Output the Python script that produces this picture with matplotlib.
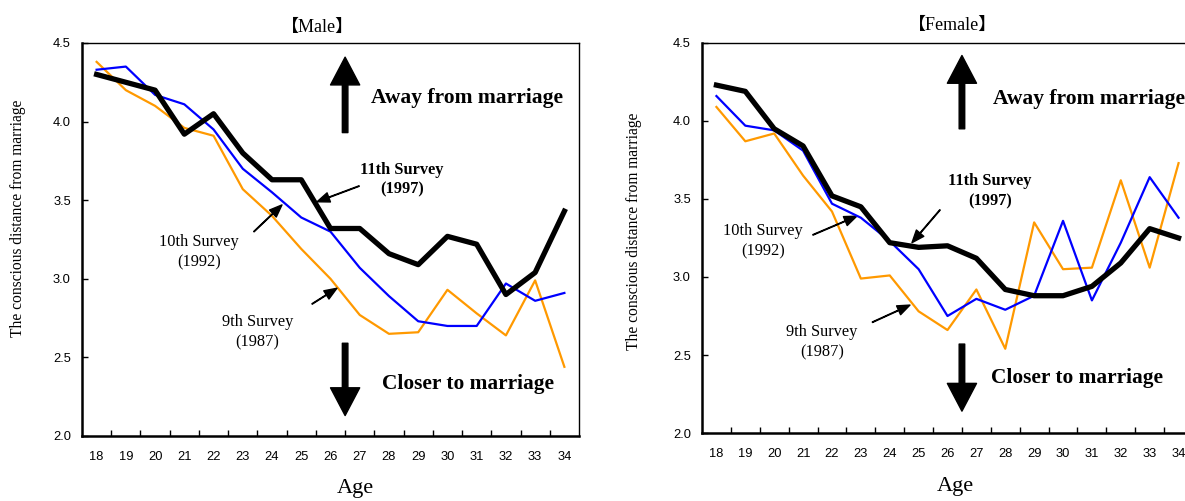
import matplotlib
matplotlib.use("Agg")
import matplotlib.pyplot as plt

ages = list(range(18, 35))
age_labels = [str(a) for a in ages]

# Male
male_11th_1997 = [4.30, 4.25, 4.20, 3.92, 4.05, 3.80, 3.63, 3.63, 3.32, 3.32, 3.16, 3.09, 3.27, 3.22, 2.90, 3.04, 3.43]
male_10th_1992 = [4.33, 4.35, 4.17, 4.11, 3.95, 3.70, 3.55, 3.39, 3.30, 3.07, 2.89, 2.73, 2.70, 2.70, 2.97, 2.86, 2.91]
male_9th_1987 = [4.38, 4.20, 4.10, 3.96, 3.91, 3.57, 3.40, 3.19, 3.00, 2.77, 2.65, 2.66, 2.93, 2.78, 2.64, 2.99, 2.44]

# Female
female_11th_1997 = [4.23, 4.19, 3.95, 3.84, 3.52, 3.45, 3.22, 3.19, 3.20, 3.12, 2.92, 2.88, 2.88, 2.94, 3.09, 3.31, 3.25]
female_10th_1992 = [4.16, 3.97, 3.94, 3.81, 3.47, 3.38, 3.23, 3.05, 2.75, 2.86, 2.79, 2.88, 3.36, 2.85, 3.22, 3.64, 3.38]
female_9th_1987 = [4.09, 3.87, 3.92, 3.65, 3.42, 2.99, 3.01, 2.78, 2.66, 2.92, 2.54, 3.35, 3.05, 3.06, 3.62, 3.06, 3.73]

serif = ["Liberation Serif", "DejaVu Serif"]
title_font = ["Liberation Serif", "Noto Sans CJK JP", "DejaVu Sans"]
sans = ["Liberation Sans", "DejaVu Sans"]

fig = plt.figure(figsize=(11.85, 5.01), dpi=100)
W, H = 1185, 501


def px_axes(left, top, right, bottom):
    return fig.add_axes([left / W, 1 - bottom / H, (right - left) / W, (bottom - top) / H])


ax_m = px_axes(82, 43, 579, 436)
ax_f = px_axes(702, 43, 1193, 433)


def setup(ax):
    ax.set_xlim(17.5, 34.5)
    ax.set_ylim(2.0, 4.5)
    ax.set_xticks(ages)
    ax.set_xticklabels(age_labels, fontsize=9.3, family=sans)
    ax.set_xticks([a + 0.5 for a in ages[:-1]], minor=True)
    ax.tick_params(axis="x", which="major", length=0, pad=11)
    ax.tick_params(axis="x", which="minor", direction="in", length=4, width=1)
    ax.set_yticks([2.0, 2.5, 3.0, 3.5, 4.0, 4.5])
    ax.set_yticklabels(["2.0", "2.5", "3.0", "3.5", "4.0", "4.5"], fontsize=9.3, family=sans)
    ax.tick_params(axis="y", direction="in", length=4, width=1, pad=8)
    for s in ax.spines.values():
        s.set_linewidth(1.0)
    ax.spines["left"].set_linewidth(1.8)
    ax.spines["bottom"].set_linewidth(1.8)


def big_arrow(ax, x, y0, y1):
    ax.annotate("", xy=(x, y1), xytext=(x, y0),
                arrowprops=dict(width=4.0, headwidth=21, headlength=20,
                                color="black", shrink=0))


def small_arrow(ax, tip, tail):
    ax.annotate("", xy=tip, xytext=tail,
                arrowprops=dict(width=0.4, headwidth=7, headlength=9,
                                color="black", shrink=0))


for ax, d11, d10, d9 in [(ax_m, male_11th_1997, male_10th_1992, male_9th_1987),
                         (ax_f, female_11th_1997, female_10th_1992, female_9th_1987)]:
    setup(ax)
    ax.plot(ages, d9, color="#FF9900", lw=1.6, zorder=3)
    ax.plot(ages, d10, color="#0000FF", lw=1.6, zorder=4)
    ax.plot(ages, d11, color="black", lw=3.8, zorder=5)

# Male annotations
big_arrow(ax_m, 26.5, 3.93, 4.41)
big_arrow(ax_m, 26.5, 2.59, 2.13)
ax_m.text(27.4, 4.15, "Away from marriage", fontsize=15.5, fontweight="bold",
          family=serif, ha="left", va="center")
ax_m.text(27.75, 2.33, "Closer to marriage", fontsize=15.4, fontweight="bold",
          family=serif, ha="left", va="center")
ax_m.text(28.45, 3.63, "11th Survey\n(1997)", fontsize=11.8, fontweight="bold",
          family=serif, ha="center", va="center", linespacing=1.35)
small_arrow(ax_m, (25.54, 3.49), (26.98, 3.59))
ax_m.text(21.5, 3.17, "10th Survey\n(1992)", fontsize=11.8,
          family=serif, ha="center", va="center", linespacing=1.35)
small_arrow(ax_m, (24.34, 3.47), (23.38, 3.30))
ax_m.text(23.5, 2.66, "9th Survey\n(1987)", fontsize=11.8,
          family=serif, ha="center", va="center", linespacing=1.35)
small_arrow(ax_m, (26.22, 2.94), (25.37, 2.84))

# Female annotations
big_arrow(ax_f, 26.5, 3.95, 4.42)
big_arrow(ax_f, 26.5, 2.57, 2.14)
ax_f.text(27.57, 4.14, "Away from marriage", fontsize=15.5, fontweight="bold",
          family=serif, ha="left", va="center")
ax_f.text(27.5, 2.35, "Closer to marriage", fontsize=15.4, fontweight="bold",
          family=serif, ha="left", va="center")
ax_f.text(27.47, 3.55, "11th Survey\n(1997)", fontsize=11.8, fontweight="bold",
          family=serif, ha="center", va="center", linespacing=1.35)
small_arrow(ax_f, (24.77, 3.22), (25.74, 3.43))
ax_f.text(19.6, 3.23, "10th Survey\n(1992)", fontsize=11.8,
          family=serif, ha="center", va="center", linespacing=1.35)
small_arrow(ax_f, (22.86, 3.39), (21.34, 3.27))
ax_f.text(21.65, 2.58, "9th Survey\n(1987)", fontsize=11.8,
          family=serif, ha="center", va="center", linespacing=1.35)
small_arrow(ax_f, (24.7, 2.82), (23.4, 2.71))

# Titles and axis labels
fig.text(318 / W, 1 - 27 / H, "【Male】", fontsize=13, family=title_font,
         ha="center", va="center")
fig.text(953 / W, 1 - 25 / H, "【Female】", fontsize=13, family=title_font,
         ha="center", va="center")
fig.text(355 / W, 1 - 489 / H, "Age", fontsize=16, family=serif, ha="center", va="center")
fig.text(955 / W, 1 - 486 / H, "Age", fontsize=16, family=serif, ha="center", va="center")
fig.text(18 / W, 1 - 218 / H, "The conscious distance from marriage", fontsize=11.2,
         family=serif, rotation=90, ha="center", va="center")
fig.text(634 / W, 1 - 231 / H, "The conscious distance from marriage", fontsize=11.2,
         family=serif, rotation=90, ha="center", va="center")

fig.savefig("out.png", dpi=100)
